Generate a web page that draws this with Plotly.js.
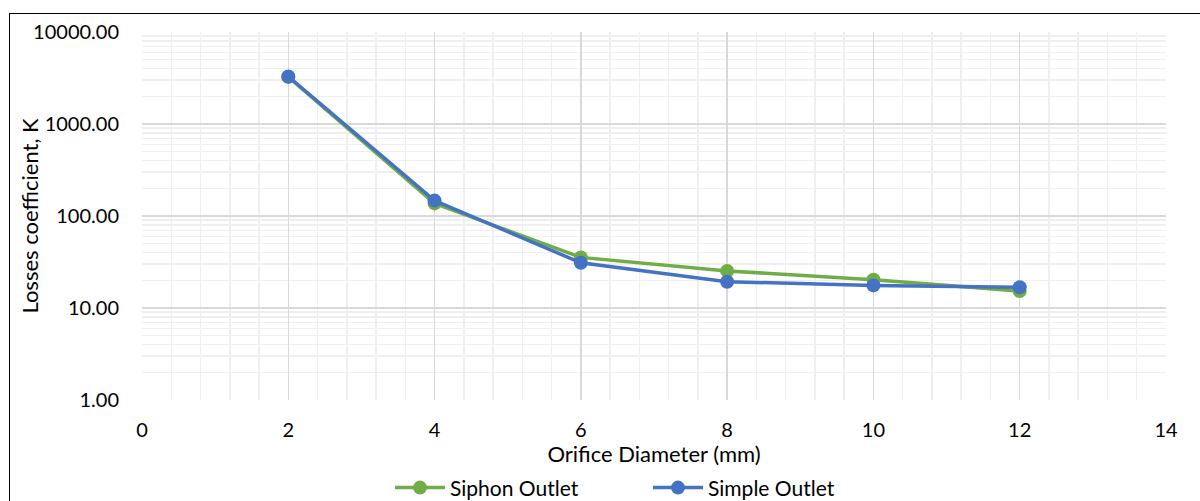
<!DOCTYPE html>
<html><head><meta charset="utf-8">
<script src="https://cdn.plot.ly/plotly-3.0.1.min.js"></script>
<style>
html,body{margin:0;padding:0;background:#fff;overflow:hidden}
#chart{width:1200px;height:501px;position:absolute;left:0;top:0}
#frame{position:absolute;left:9px;top:13px;width:1400px;height:600px;border-top:1.5px solid #000;border-left:1.5px solid #000;pointer-events:none}
</style></head>
<body>
<div id="chart"></div>
<div id="frame"></div>
<script>
const diameters = [2, 4, 6, 8, 10, 12];
const siphonOutlet = [3250, 137, 35.5, 25.3, 20.3, 15.3];
const simpleOutlet = [3280, 147, 31, 19.3, 17.6, 16.8];
const seriesNames = ['Siphon Outlet', 'Simple Outlet'];

const font = 'Lato, "Open Sans", "Liberation Sans", sans-serif';
const traces = [
  {x: diameters, y: siphonOutlet, name: seriesNames[0], type: 'scatter', mode: 'lines+markers',
   line: {color: '#70ad47', width: 3.5}, marker: {color: '#70ad47', size: 14}},
  {x: diameters, y: simpleOutlet, name: seriesNames[1], type: 'scatter', mode: 'lines+markers',
   line: {color: '#4472c4', width: 3.5}, marker: {color: '#4472c4', size: 14}}
];
const layout = {
  width: 1200, height: 501,
  margin: {l: 142, r: 34, t: 32, b: 101},
  paper_bgcolor: '#fff', plot_bgcolor: '#fff',
  font: {family: font, size: 20, color: '#000'},
  showlegend: true,
  legend: {orientation: 'h', x: 390 / 1200, xanchor: 'left', xref: 'container',
           y: 0.026, yanchor: 'middle', yref: 'container',
           font: {size: 21, family: font}, traceorder: 'normal', itemwidth: 50,
           entrywidth: 193, entrywidthmode: 'pixels'},
  xaxis: {
    automargin: false,
    range: [0, 14], dtick: 2, tick0: 0, showgrid: true, gridcolor: '#d9d9d9', gridwidth: 1.5,
    zeroline: false, showline: false, ticks: '', tickfont: {size: 20}, ticklabelstandoff: 16,
    minor: {dtick: 0.4, tick0: 0, showgrid: true, gridcolor: '#efefef', gridwidth: 1.5},
    title: {text: 'Orifice Diameter (mm)', font: {size: 22}}
  },
  yaxis: {
    automargin: false,
    type: 'log', range: [0, 4], dtick: 1, tickformat: '.2f', showgrid: true,
    gridcolor: '#d9d9d9', gridwidth: 1.5, zeroline: false, showline: false, ticks: '',
    tickfont: {size: 20}, ticklabelstandoff: 22,
    minor: {dtick: 'D1', showgrid: true, gridcolor: '#efefef', gridwidth: 1.5},
    title: {text: 'Losses coefficient, K', font: {size: 22}}
  }
};
Plotly.newPlot('chart', traces, layout, {displayModeBar: false, staticPlot: true});
</script>
</body></html>
